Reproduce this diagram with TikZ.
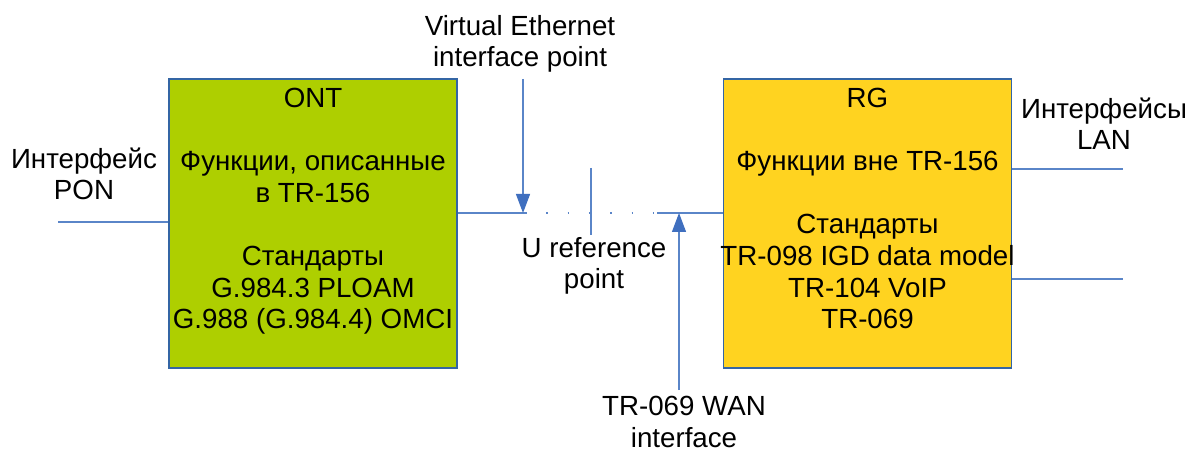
\documentclass[tikz,border=0pt]{standalone}
\usepackage{fontspec}
\setmainfont{Liberation Sans}
\usetikzlibrary{arrows.meta}
\definecolor{ontgreen}{HTML}{AECF00}
\definecolor{rgyellow}{HTML}{FFD320}
\definecolor{edgeblue}{HTML}{3465A4}
\definecolor{lineblue}{HTML}{5A85C8}
\definecolor{tipblue}{HTML}{3F6FBF}
\begin{document}
\begin{tikzpicture}[x=1pt,y=-1pt,
  txt/.style={font=\fontsize{27.7}{31.7}\selectfont, align=center, inner sep=0pt, anchor=base},
  box/.style={draw=edgeblue, line width=1.2pt, minimum width=288pt, minimum height=289pt, inner sep=0pt},
  conn/.style={draw=lineblue, line width=1.2pt},
  arr/.style={conn, -{Triangle[length=19pt,width=14pt,fill=tipblue,color=tipblue]}}]
\useasboundingbox (0,0) rectangle (1194,454);
\fill[white] (0,0) rectangle (1194,454);
% boxes
\node[box, fill=ontgreen] (ont) at (313,223.5) {};
\node[box, fill=rgyellow] (rg) at (867.5,223.5) {};
% box texts (anchor = baseline of last line)
\node[txt] (onttext) at (313,329) {ONT\\[31.7pt]Функции, описанные\\в TR-156\\[31.7pt]Стандарты\\G.984.3 PLOAM\\G.988 (G.984.4) OMCI};
\node[txt] (rgtext) at (867.5,329) {RG\\[31.7pt]Функции вне TR-156\\[31.7pt]Стандарты\\TR-098 IGD data model\\TR-104 VoIP\\TR-069};
% outside labels
\node[txt] (vlabel) at (520,67) {Virtual Ethernet\\interface point};
\node[txt] (ponlabel) at (84,200) {Интерфейс\\PON};
\node[txt] (lanlabel) at (1104,150) {Интерфейсы\\LAN};
\node[txt] (ulabel) at (594,289) {U reference\\point};
\node[txt] (wanlabel) at (684,447) {TR-069 WAN\\interface};
% coordinates
\coordinate (solidend) at (525,213);
\coordinate (dotend) at (657,213);
\coordinate (vtop) at (523,79);
\coordinate (vtip) at (523,213);
\coordinate (wbot) at (679,390);
\coordinate (wtip) at (679,213);
\coordinate (utop) at (591,168);
\coordinate (ubot) at (591,235);
\coordinate (ponend) at (58,222);
\coordinate (lanone) at (1123,169);
\coordinate (lantwo) at (1123,279);
% connectors
\draw[conn] (ont.east |- solidend) -- (solidend);
\draw[conn, dash pattern=on 1.5pt off 19.83pt] (solidend) -- (dotend);
\draw[conn] (dotend) -- (rg.west |- dotend);
\draw[conn] (utop) -- (ubot);
\draw[arr] (vtop) -- (vtip);
\draw[arr] (wbot) -- (wtip);
\draw[conn] (ponend) -- (ont.west |- ponend);
\draw[conn] (rg.east |- lanone) -- (lanone);
\draw[conn] (rg.east |- lantwo) -- (lantwo);
\end{tikzpicture}
\end{document}
